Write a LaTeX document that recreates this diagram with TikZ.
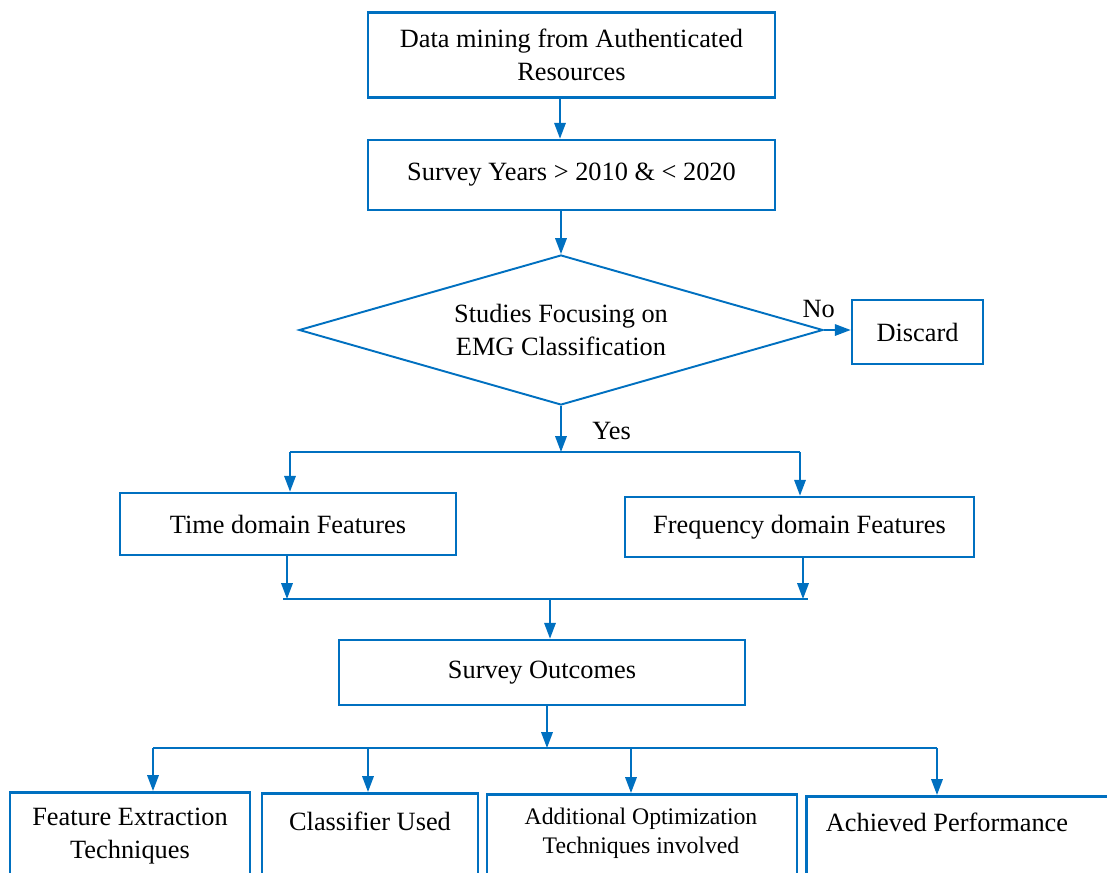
\documentclass[tikz,border=0pt]{standalone}
\usepackage{fontspec}
\setmainfont{Liberation Serif}
\usetikzlibrary{shapes.geometric,arrows.meta}
\definecolor{flowblue}{HTML}{0070C0}

\begin{document}
\begin{tikzpicture}[
            x=0.02cm, y=-0.02cm,
            box/.style={draw=flowblue, line width=1.5pt, align=center, inner sep=0pt,
                        font=\fontsize{15}{18.5}\selectfont},
            decision/.style={diamond, aspect=3.5, draw=flowblue, line width=1.1pt, align=center, inner sep=0pt,
                        font=\fontsize{15}{18.5}\selectfont},
            label/.style={font=\fontsize{15}{18.5}\selectfont},
            link/.style={draw=flowblue, line width=1.1pt},
            arrow/.style={link, -{Triangle[length=9pt,width=6.5pt]}}
        ]
        \useasboundingbox (0,0) rectangle (1107,873);
        \clip (0,0) rectangle (1107,873);

        % Top of the flow
        \node[box, minimum width=8.14cm, minimum height=1.7cm] (mining) at (571.5,55) {Data mining from Authenticated\\Resources};
        \node[box, minimum width=8.14cm, minimum height=1.4cm] (years) at (571.5,175) {Survey Years > 2010 \& < 2020};

        % Decision
        \node[decision, minimum width=10.48cm, minimum height=3cm] (focus) at (561,330) {Studies Focusing on\\EMG Classification};
        \node[box, minimum width=2.62cm, minimum height=1.28cm] (discard) at (917.5,332) {Discard};

        % Feature boxes
        \node[box, minimum width=6.72cm, minimum height=1.24cm] (time) at (288,524) {Time domain Features};
        \node[box, minimum width=6.98cm, minimum height=1.2cm] (freq) at (799.5,527) {Frequency domain Features};

        \node[box, minimum width=8.12cm, minimum height=1.3cm] (outcome) at (542,672.5) {Survey Outcomes};

        % Bottom row (runs off the page)
        \node[box, minimum width=4.8cm, minimum height=2.4cm, anchor=north] (extract) at (130,791) {};
        \node[box, minimum width=4.32cm, minimum height=2.4cm, anchor=north] (classifier) at (370,792) {};
        \node[box, minimum width=6.2cm, minimum height=2.4cm, anchor=north] (optim) at (642,793) {};
        \node[box, minimum width=6.6cm, minimum height=2.4cm, anchor=north west] (perf) at (805,795) {};
        \node[label, align=center] (extractT) at (130,836) {Feature Extraction\\Techniques};
        \node[label] (classifierT) at (370,821) {Classifier Used};
        \node[align=center, font=\fontsize{13.5}{16.5}\selectfont] (optimT) at (641,833) {Additional Optimization\\Techniques involved};
        \node[label] (perfT) at (947,822) {Achieved Performance};

        % Junction points
        \coordinate (splitA) at (561,452);
        \coordinate (splitAl) at (290,452);
        \coordinate (splitAr) at (800,452);
        \coordinate (joinB) at (550,599);
        \coordinate (joinBl) at (283,599);
        \coordinate (joinBr) at (808,599);
        \coordinate (splitC) at (547,748);
        \coordinate (splitCl) at (153,748);
        \coordinate (splitCr) at (937,748);

        % Edges
        \draw[arrow] (560,97) -- (years.north -| 560,0);
        \draw[arrow] (years.south -| focus.north) -- (focus.north);
        \draw[arrow] (focus.east) -- (discard.west |- focus.east) node[pos=0, above, yshift=3pt, xshift=-3pt, label] {No};
        \draw[arrow] (focus.south) -- (splitA) node[midway, right, xshift=14pt, yshift=-1pt, label] {Yes};
        \draw[link] (splitAl) -- (splitAr);
        \draw[arrow] (splitAl) -- (time.north -| splitAl);
        \draw[arrow] (splitAr) -- (freq.north -| splitAr);
        \draw[arrow] (time.south -| 287,0) -- (287,599);
        \draw[arrow] (freq.south -| 803,0) -- (803,599);
        \draw[link] (joinBl) -- (joinBr);
        \draw[arrow] (joinB) -- (outcome.north -| joinB);
        \draw[arrow] (outcome.south -| splitC) -- (splitC);
        \draw[link] (splitCl) -- (splitCr);
        \foreach \xx/\tgt in {153/extract, 368/classifier, 631/optim, 937/perf}
            \draw[arrow] (\xx,748) -- (\tgt.north -| \xx,0);

    \end{tikzpicture}
\end{document}
